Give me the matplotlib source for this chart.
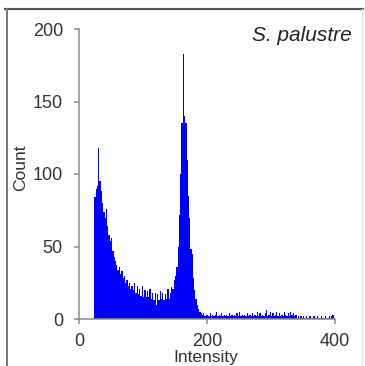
import numpy as np
import matplotlib
matplotlib.use('Agg')
import matplotlib.pyplot as plt
from matplotlib.lines import Line2D

plt.rcParams['font.family'] = ['Liberation Sans', 'DejaVu Sans']

# histogram bins (left edges, width 2) and counts
bin_width = 2
bin_start = 24
counts_peak1 = [84, 90, 92, 118, 95, 88, 80, 74, 70, 76, 64, 58, 54, 56, 47, 43,
                40, 37, 34, 36, 31, 33, 28, 30, 25, 27, 23, 25, 21, 23, 20, 25,
                18, 23, 17, 21, 16, 23, 15, 20, 15, 19, 15, 21, 14, 18, 13, 18,
                10, 17, 13, 19, 14, 18, 13, 17, 14, 21, 14, 18]
counts_peak2 = [22, 21, 27, 30, 36, 50, 72, 100, 135, 183, 140, 135, 110, 85,
                70, 48, 45, 28, 20, 14, 10, 7, 5, 4, 3, 4, 2, 3]
counts_tail = [3, 2, 4, 2, 3, 2, 3, 5, 2, 3,
               2, 4, 2, 3, 2, 3, 2, 4, 2, 3,
               2, 3, 2, 4, 2, 5, 2, 3, 2, 3,
               2, 4, 2, 3, 2, 4, 2, 3, 2, 5,
               2, 4, 2, 3, 2, 4, 6, 2, 3, 5,
               2, 4, 2, 3, 5, 2, 4, 2, 3, 2,
               5, 3, 2, 4, 2, 5, 3, 4, 2, 3,
               1, 2, 1, 2, 1, 2, 1, 2, 1, 1,
               2, 1, 1, 2, 1, 1, 2, 1, 1, 2,
               1, 1, 2, 1, 1, 2, 1, 2, 3, 1]
xticks = [0, 200, 400]
yticks = [0, 50, 100, 150, 200]
title = 'S. palustre'

counts = np.array(counts_peak1 + counts_peak2 + counts_tail)
edges = bin_start + bin_width * np.arange(len(counts) + 1)

fig = plt.figure(figsize=(3.65, 3.66), dpi=100)
ax = fig.add_axes([79/365, 47/366, 256/365, 290/366])

ax.stairs(counts, edges, fill=True, color='#0000ff', linewidth=0)

ax.set_xlim(0, 400)
ax.set_ylim(0, 200)
ax.set_xticks(xticks)
ax.set_yticks(yticks)
for s in ['top', 'right']:
    ax.spines[s].set_visible(False)
for s in ['left', 'bottom']:
    ax.spines[s].set_color('#8c8c8c')
    ax.spines[s].set_linewidth(1.1)
ax.tick_params(axis='both', direction='out', length=3.6, width=1.1,
               color='#8c8c8c', labelcolor='#333333', labelsize=13)
ax.tick_params(axis='y', pad=8)
ax.tick_params(axis='x', pad=6.5)

ax.set_xlabel('Intensity', fontsize=12.5, color='#333333')
ax.set_ylabel('Count', fontsize=12.5, color='#333333')
ax.xaxis.set_label_coords(0.494, -0.132)
ax.xaxis.label.set_va('center')
ax.yaxis.set_label_coords(-0.227, 0.52)
ax.yaxis.label.set_va('center')

fig.text(0.964, 1 - 41/366, title, style='italic', fontsize=15,
         color='#222222', ha='right', va='baseline')

# frame lines of the original figure panel
fig.add_artist(Line2D([5/365, 363/365], [1 - 9/366] * 2, color='#555555',
                      lw=1.6, transform=fig.transFigure))
fig.add_artist(Line2D([7/365] * 2, [0, 1 - 9/366], color='#777777',
                      lw=1.4, transform=fig.transFigure))
fig.add_artist(Line2D([362/365] * 2, [0, 1 - 9/366], color='#e6e6e6',
                      lw=1.0, transform=fig.transFigure))

fig.savefig('out.png', dpi=100)
